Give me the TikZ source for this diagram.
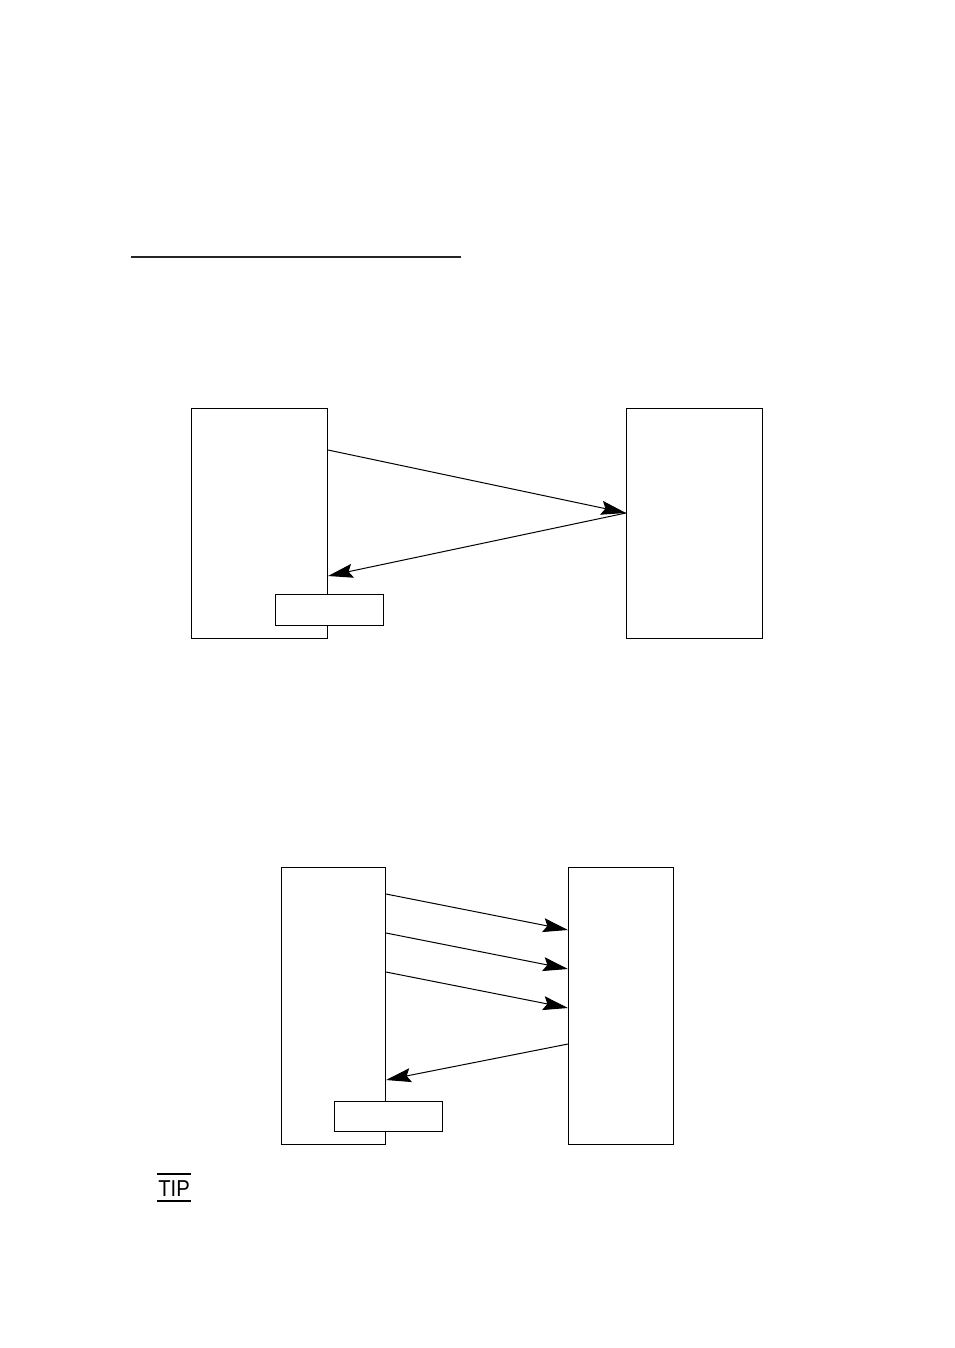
\documentclass[tikz,border=0pt]{standalone}
\usepackage{fontspec}
\setmainfont{Liberation Sans}
\usetikzlibrary{arrows.meta}
\begin{document}
\begin{tikzpicture}[x=1pt,y=-1pt,
  box/.style={draw,line width=1pt,minimum width=#1,inner sep=0pt,anchor=north west},
  tag/.style={draw,fill=white,line width=1pt,inner sep=0pt,anchor=north west},
  arr/.style={line width=1pt,-{Stealth[length=25pt,width=14pt,inset=4pt]}},
  rule/.style={line width=1.2pt,draw=black!85}]
\useasboundingbox (0,0) rectangle (954,1348);
% header rule
\coordinate (r1) at (131,257);
\coordinate (r2) at (461,257);
\draw[rule] (r1) -- (r2);
% first diagram
\node[box=136pt,minimum height=230pt] (a1) at (191,408) {};
\node[box=136pt,minimum height=230pt] (b1) at (626,408) {};
\draw[arr] ([yshift=-42pt]a1.north east) -- ([yshift=-105pt]b1.north west);
\draw[arr] ([yshift=-105pt]b1.north west) -- ([yshift=-168pt]a1.north east);
\node[tag,minimum width=108pt,minimum height=31pt] (t1) at (275,594) {};
% second diagram
\node[box=104pt,minimum height=277pt] (a2) at (281,867) {};
\node[box=105pt,minimum height=277pt] (b2) at (568,867) {};
\draw[arr] ([yshift=-27pt]a2.north east) -- ([yshift=-63pt]b2.north west);
\draw[arr] ([yshift=-66pt]a2.north east) -- ([yshift=-102pt]b2.north west);
\draw[arr] ([yshift=-105pt]a2.north east) -- ([yshift=-141pt]b2.north west);
\draw[arr] ([yshift=-177pt]b2.north west) -- ([yshift=-213pt]a2.north east);
\node[tag,minimum width=108pt,minimum height=30pt] (t2) at (334,1101) {};
% TIP
\node[inner sep=0pt,xscale=0.88,transform shape,font=\fontsize{23}{23}\selectfont] (tip) at (174,1189) {TIP};
\draw[line width=2pt] ([xshift=-1pt,yshift=7pt]tip.north west) -- ([xshift=1pt,yshift=7pt]tip.north east);
\draw[line width=2pt] ([xshift=-1pt,yshift=-4pt]tip.south west) -- ([xshift=1pt,yshift=-4pt]tip.south east);
\end{tikzpicture}
\end{document}
